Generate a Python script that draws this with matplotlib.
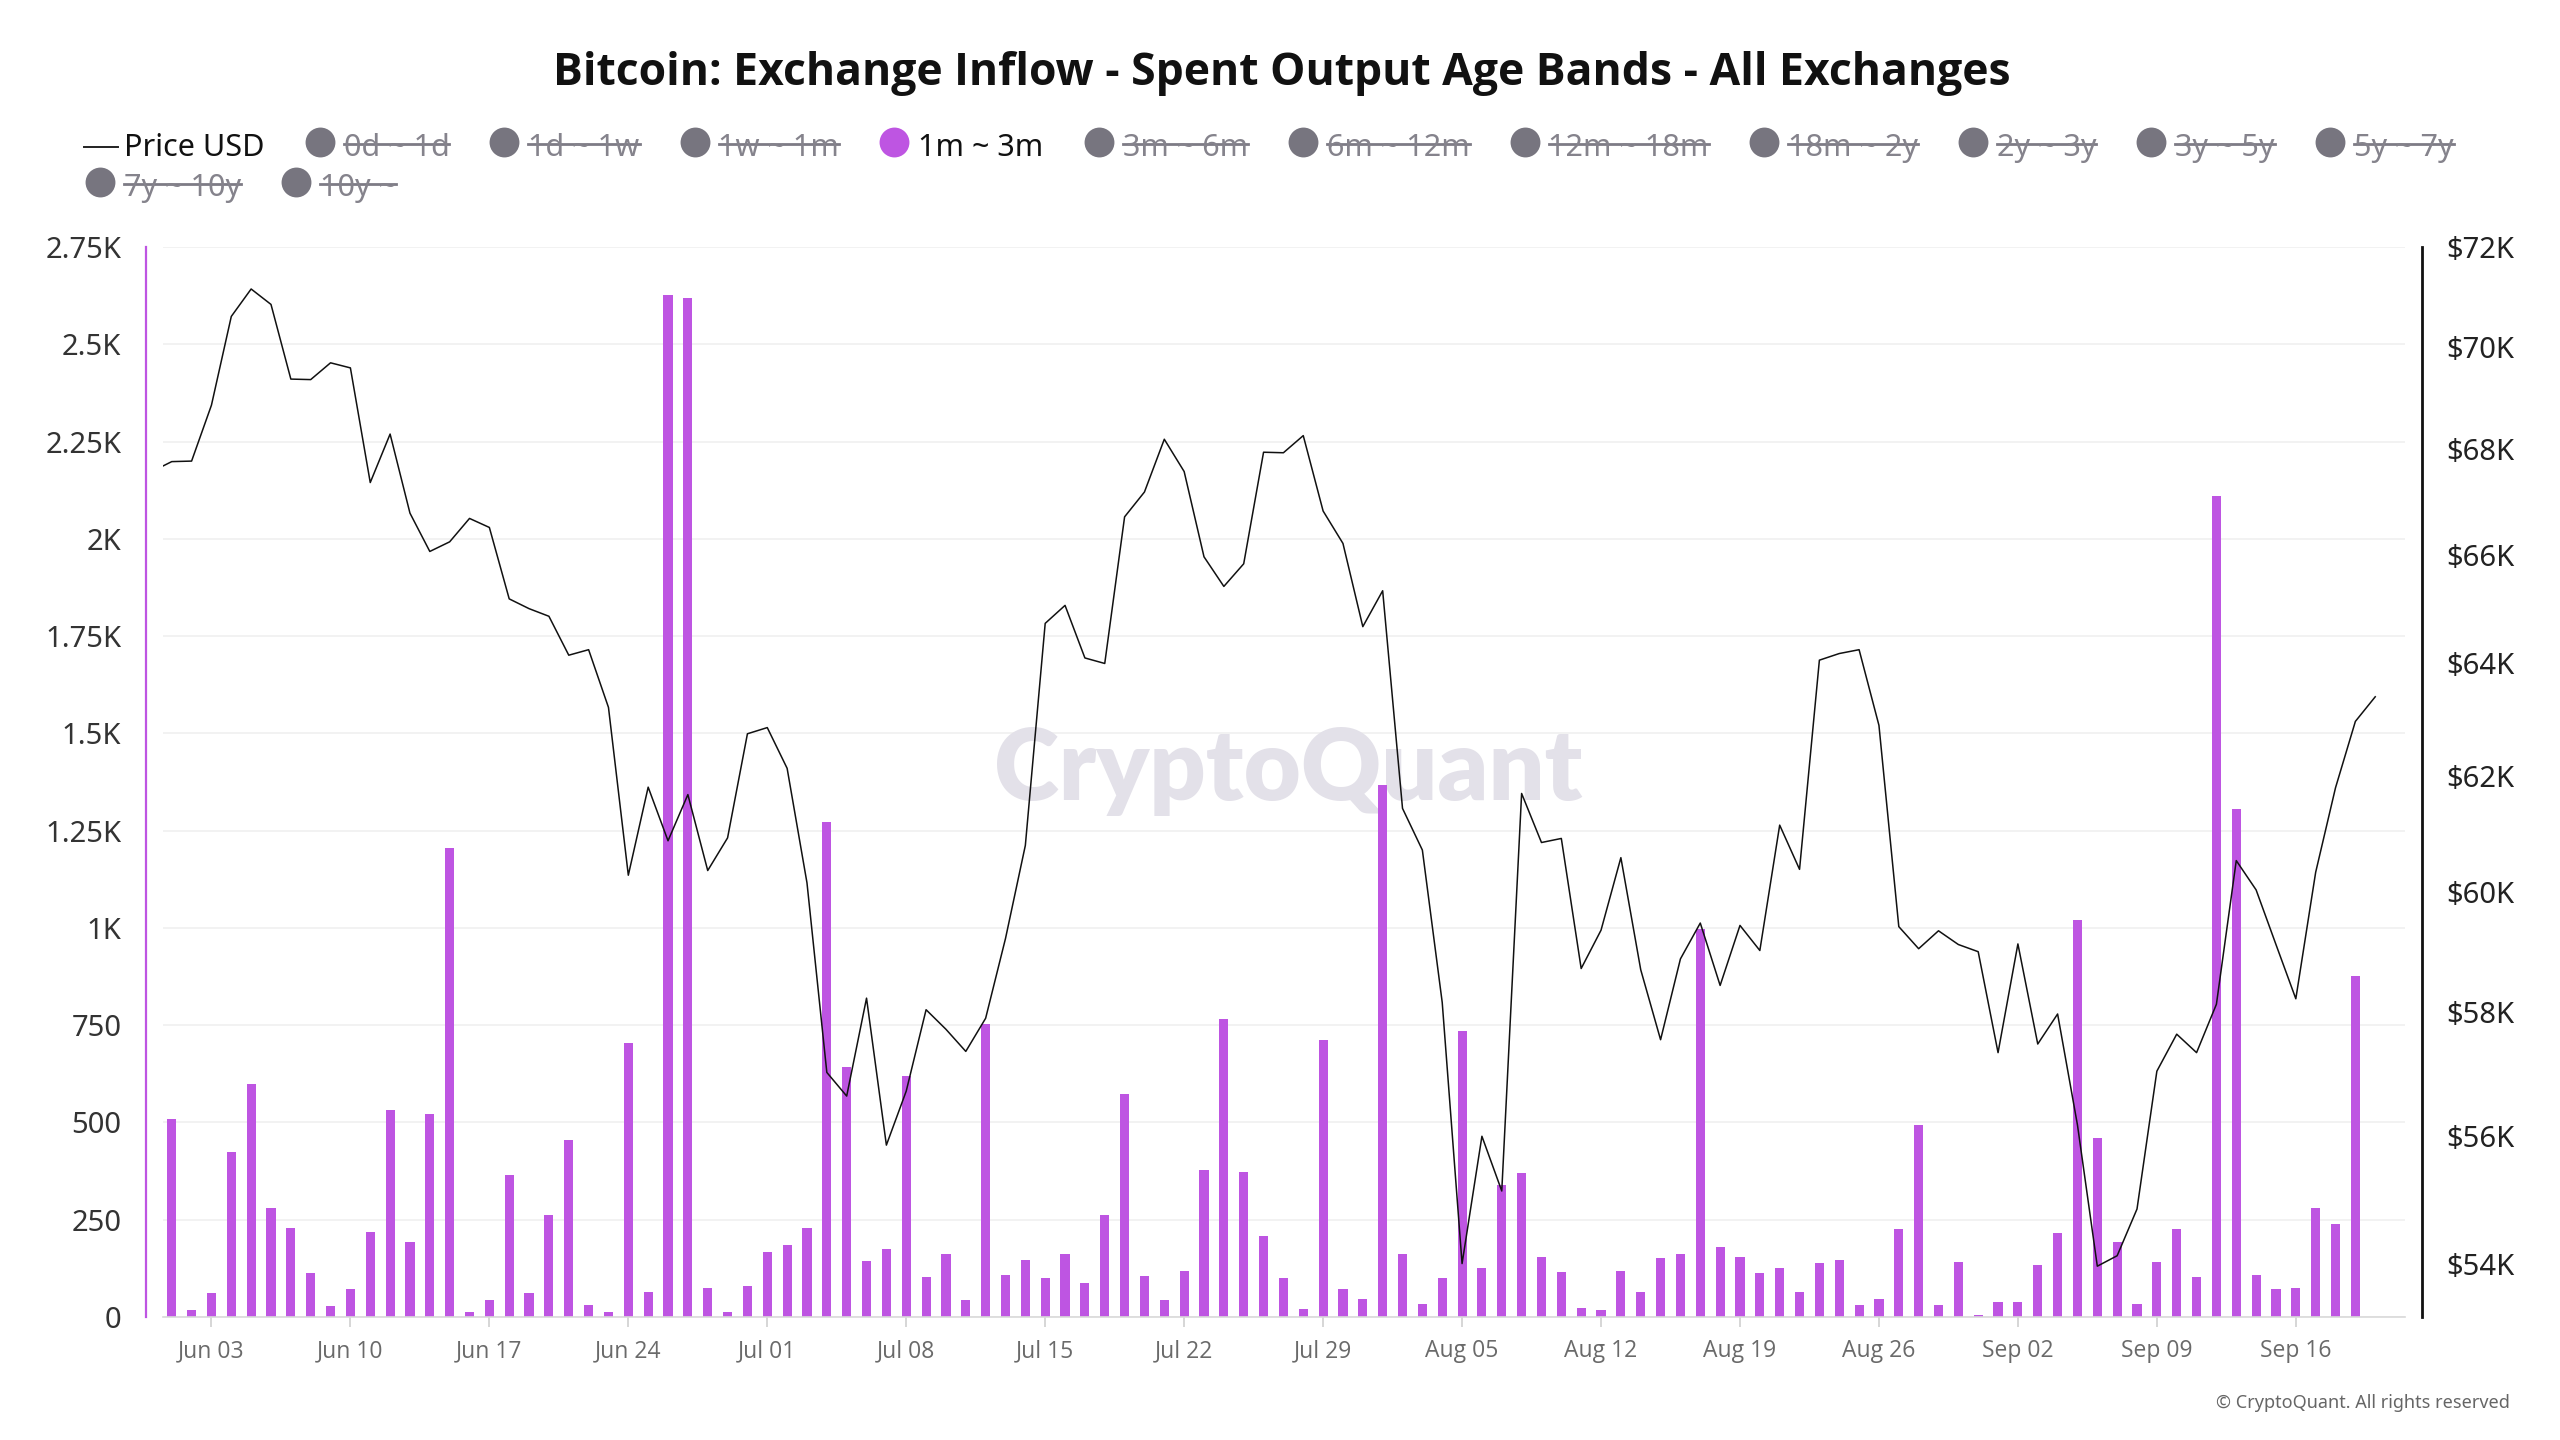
import matplotlib
matplotlib.use("Agg")
import matplotlib.pyplot as plt
import matplotlib.dates as mdates
from matplotlib.ticker import FixedLocator, FuncFormatter, NullLocator, MultipleLocator
from matplotlib.lines import Line2D
import pandas as pd

# ---- data ----
bar_dates = pd.date_range("2024-06-01", "2024-09-19", freq="D")
price_dates = pd.date_range("2024-05-31", "2024-09-20", freq="D")

inflow_1m_3m = [
    # Jun
    510, 19, 61, 425, 598, 281, 229, 114, 28, 73, 218, 531, 192, 523, 1205,
    13, 43, 365, 61, 263, 456, 30, 13, 704, 63, 2627, 2619, 75, 14, 80,
    # Jul
    168, 184, 229, 1272, 643, 143, 175, 619, 102, 162, 43, 753, 108, 147, 101,
    162, 88, 261, 572, 106, 43, 119, 378, 766, 373, 207, 101, 21, 712, 71, 47,
    # Aug
    1367, 162, 34, 99, 736, 127, 339, 369, 155, 116, 22, 19, 117, 63, 151,
    162, 997, 179, 155, 114, 127, 63, 138, 147, 30, 47, 227, 494, 30, 142, 6,
    # Sep
    39, 39, 134, 216, 1021, 460, 192, 34, 142, 227, 104, 2111, 1306, 108, 71,
    75, 281, 240, 877,
]

price_usd = [
    67570,
    # Jun
    67760, 67770, 68850, 70600, 71150, 70840, 69360, 69350, 69680, 69580,
    67360, 68290, 66780, 66060, 66240, 66680, 66510, 65180, 65000, 64860,
    64150, 64250, 63210, 60280, 61800, 60870, 61670, 60360, 60920, 62740,
    # Jul
    62850, 62130, 60150, 57010, 56630, 58220, 55850, 56710, 58030, 57710,
    57350, 57890, 59210, 60790, 64730, 65060, 64100, 64000, 66710, 67180,
    68190, 67570, 65960, 65410, 65830, 67940, 67930, 68260, 66820, 66210, 64670,
    # Aug
    65330, 61430, 60710, 58150, 54010, 55990, 55130, 61690, 60840, 60910,
    58710, 59350, 60580, 58690, 57540, 58870, 59470, 58430, 59430, 59010,
    61140, 60380, 64060, 64180, 64250, 62890, 59410, 59040, 59340, 59110, 58990,
    # Sep
    57330, 59120, 57470, 57960, 56170, 53970, 54130, 54850, 57030, 57630,
    57330, 58120, 60530, 60030, 59110, 58210, 60330, 61790, 62960, 63400,
]

price_ticks = [54000, 56000, 58000, 60000, 62000, 64000, 66000, 68000, 70000, 72000]

age_bands = ['0d ~ 1d', '1d ~ 1w', '1w ~ 1m', '1m ~ 3m', '3m ~ 6m', '6m ~ 12m',
             '12m ~ 18m', '18m ~ 2y', '2y ~ 3y', '3y ~ 5y', '5y ~ 7y',
             '7y ~ 10y', '10y ~']
active_band = '1m ~ 3m'

PURPLE = '#be55e2'
GREY_DOT = '#77757f'
GREY_TXT = '#85838c'
FONT = 'Noto Sans'

W, H = 2560, 1440
fig = plt.figure(figsize=(W / 100, H / 100), dpi=100)
fig.patch.set_facecolor('white')


def fx(px):
    return px / W


def fy(py):
    return 1 - py / H


ax = fig.add_axes([fx(163), fy(1317), (2405 - 163) / W, (1317 - 247) / H])
ax2 = ax.twinx()

# bars
ax.bar(bar_dates, inflow_1m_3m, width=0.46, color=PURPLE, zorder=2)
ax.set_ylim(0, 2750)
ax.yaxis.set_major_locator(MultipleLocator(250))
ax.yaxis.set_major_formatter(FuncFormatter(
    lambda v, pos: f"{v / 1000:g}K" if v >= 1000 else f"{int(v)}"))
ax.yaxis.grid(True, color='#f0f0f0', linewidth=1.2)
ax.set_axisbelow(True)

ax.set_xlim(pd.Timestamp("2024-05-31 13:26"), pd.Timestamp("2024-09-21 12:00"))
ax.xaxis.set_major_locator(mdates.WeekdayLocator(byweekday=mdates.MO))
ax.xaxis.set_major_formatter(mdates.DateFormatter('%b %d'))

for s in ['top', 'right']:
    ax.spines[s].set_visible(False)
ax.spines['left'].set_position(('outward', 12))
ax.spines['left'].set_color(PURPLE)
ax.spines['left'].set_linewidth(1.6)
ax.spines['bottom'].set_color('#d9d9d9')
ax.spines['bottom'].set_linewidth(1.2)

ax.tick_params(axis='y', length=0, pad=18, labelsize=21, labelcolor='#333333')
ax.tick_params(axis='x', length=7, width=1.2, color='#d0d0d0', pad=9,
               labelsize=16.5, labelcolor='#6a6a6a')
for lab in ax.get_xticklabels():
    lab.set_fontfamily('Open Sans')

# price line (log scale right axis)
ax2.plot(price_dates, price_usd, color='#111111', linewidth=1.1, zorder=3)
ax2.set_yscale('log')
ax2.set_ylim(53200, 72000)
ax2.yaxis.set_major_locator(FixedLocator(price_ticks))
ax2.yaxis.set_minor_locator(NullLocator())
ax2.yaxis.set_major_formatter(FuncFormatter(lambda v, pos: f"${v / 1000:g}K"))
for s in ['top', 'left', 'bottom']:
    ax2.spines[s].set_visible(False)
ax2.spines['right'].set_position(('outward', 12))
ax2.spines['right'].set_color('#111111')
ax2.spines['right'].set_linewidth(2.0)
ax2.tick_params(axis='y', which='both', length=0, pad=18, labelsize=21,
                labelcolor='#222222')

for a in (ax, ax2):
    for lab in a.get_yticklabels():
        lab.set_fontfamily(FONT)

# watermark
ax.text(fx(1288), fy(771), 'CryptoQuant', transform=fig.transFigure,
        ha='center', va='center', fontsize=71, fontweight='heavy',
        family='Lato', color='#e3e1e9', zorder=0.6)

# title
fig.text(fx(1282), fy(74), 'Bitcoin: Exchange Inflow - Spent Output Age Bands - All Exchanges',
         ha='center', va='center', fontsize=32, fontweight='bold',
         family='Open Sans', color='#111111')

# legend (flow layout)
renderer = fig.canvas.get_renderer()
row_base = [156, 196]
row_dot = [142, 182]
row = 0
fig.add_artist(Line2D([fx(84), fx(118)], [fy(147), fy(147)],
                      transform=fig.transFigure, color='#222222', linewidth=1.4))
t = fig.text(fx(124), fy(row_base[0]), 'Price USD', ha='left', va='baseline',
             fontsize=22, family=FONT, color='#111111')
x_end = 124 + t.get_window_extent(renderer).width
for band in age_bands:
    on = band == active_band
    left = x_end + 40
    t = fig.text(0, 0, band, fontsize=22, family=FONT, ha='left', va='baseline',
                 color='#111111' if on else GREY_TXT)
    w = t.get_window_extent(renderer).width
    if left + 39 + w > 2500:
        row += 1
        left = 85
    cx = left + 15
    tx = cx + 24
    t.set_position((fx(tx), fy(row_base[row])))
    fig.add_artist(Line2D([fx(cx)], [fy(row_dot[row])], transform=fig.transFigure,
                          marker='o', markersize=21.5, linestyle='none',
                          markerfacecolor=PURPLE if on else GREY_DOT,
                          markeredgewidth=0))
    if not on:
        sy = row_base[row] - 12
        fig.add_artist(Line2D([fx(tx), fx(tx + w)], [fy(sy), fy(sy)],
                              transform=fig.transFigure, color='#7d7b85',
                              linewidth=2.0))
    x_end = tx + w

# copyright
fig.text(fx(2510), fy(1403), '\u00a9 CryptoQuant. All rights reserved',
         ha='right', va='center', fontsize=13, family=FONT, color='#666666')

fig.savefig('out.png', dpi=100, facecolor='white')
